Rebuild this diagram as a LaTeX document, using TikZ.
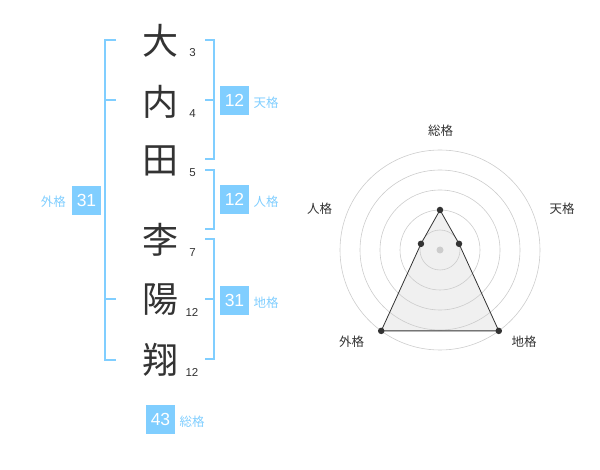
\documentclass[tikz,border=0pt]{standalone}
\usepackage{fontspec}
\newfontfamily\jp{Noto Sans CJK JP}
\newfontfamily\dig{Liberation Sans}
\definecolor{kblue}{RGB}{128,206,255}
\definecolor{kdark}{RGB}{51,51,51}
\definecolor{kgrid}{RGB}{204,204,204}
\definecolor{kfill}{RGB}{225,225,225}
\begin{document}
\begin{tikzpicture}[x=1pt,y=-1pt,
  kanji/.style={font=\jp\fontsize{36}{36}\selectfont, text=kdark, inner sep=0pt},
  stroke/.style={font=\dig\fontsize{11.5}{11.5}\selectfont, text=kdark, inner sep=0pt},
  numbox/.style={fill=kblue, text=white, minimum width=29pt, minimum height=29pt, inner sep=0pt, font=\dig\fontsize{17.5}{17.5}\selectfont},
  kaku/.style={font=\jp\fontsize{12.5}{12.5}\selectfont, text=kblue, inner sep=0pt},
  bracket/.style={draw=kblue, line width=2pt},
  radlab/.style={font=\jp\fontsize{12.5}{12.5}\selectfont, text=kdark, inner sep=0pt},
  grid/.style={draw=kgrid, line width=0.6pt},
  dot/.style={circle, fill=kdark, inner sep=0pt, minimum size=6.5pt}]
\useasboundingbox (0,0) rectangle (600,470);
% kanji
\node[kanji] (k1) at (160,41) {大};
\node[kanji] (k2) at (160,102) {内};
\node[kanji] (k3) at (160,161) {田};
\node[kanji] (k4) at (160,240) {李};
\node[kanji] (k5) at (160,300) {陽};
\node[kanji] (k6) at (160,360) {翔};
% stroke counts
\node[stroke] (s1) at (192.5,52.5) {3};
\node[stroke] (s2) at (192.5,113.5) {4};
\node[stroke] (s3) at (192.5,172.5) {5};
\node[stroke] (s4) at (192.5,252.5) {7};
\node[stroke] (s5) at (192,312.5) {12};
\node[stroke] (s6) at (192,372.5) {12};
% outer bracket
\coordinate (ga) at (116,40);
\coordinate (gb) at (105,40);
\coordinate (gc) at (105,360);
\coordinate (gd) at (116,360);
\draw[bracket] (ga) -- (gb) -- (gc) -- (gd);
\coordinate (gm1) at (105,100);
\coordinate (gm1e) at (116,100);
\coordinate (gm2) at (105,299.5);
\coordinate (gm2e) at (116,299.5);
\draw[bracket] (gm1) -- (gm1e);
\draw[bracket] (gm2) -- (gm2e);
\node[numbox] (gaibox) at (86.5,200.5) {31};
\node[kaku, anchor=east] (gailab) at (66,202) {外格};
% tenkaku bracket
\coordinate (ta) at (205,40);
\coordinate (tb) at (214,40);
\coordinate (tc) at (214,159.5);
\coordinate (td) at (205,159.5);
\draw[bracket] (ta) -- (tb) -- (tc) -- (td);
\coordinate (tm) at (205,100);
\coordinate (tme) at (214,100);
\draw[bracket] (tm) -- (tme);
\node[numbox] (tenbox) at (234.5,100.5) {12};
\node[kaku, anchor=west] (tenlab) at (253.5,102.5) {天格};
% jinkaku bracket
\coordinate (ja) at (205,170);
\coordinate (jb) at (214,170);
\coordinate (jc) at (214,229.5);
\coordinate (jd) at (205,229.5);
\draw[bracket] (ja) -- (jb) -- (jc) -- (jd);
\node[numbox] (jinbox) at (234.5,199.5) {12};
\node[kaku, anchor=west] (jinlab) at (253.5,201.5) {人格};
% chikaku bracket
\coordinate (ca) at (205,239.5);
\coordinate (cb) at (214,239.5);
\coordinate (cc) at (214,359.5);
\coordinate (cd) at (205,359.5);
\draw[bracket] (ca) -- (cb) -- (cc) -- (cd);
\coordinate (cm) at (205,299.5);
\coordinate (cme) at (214,299.5);
\draw[bracket] (cm) -- (cme);
\node[numbox] (chibox) at (234.5,300.5) {31};
\node[kaku, anchor=west] (chilab) at (253.5,302.5) {地格};
% soukaku
\node[numbox] (soubox) at (160.5,419.5) {43};
\node[kaku, anchor=west] (soulab) at (179.5,421.5) {総格};
% radar
\coordinate (O) at (440,250);
\coordinate (pS) at (440,210);
\coordinate (pT) at (459.02,243.82);
\coordinate (pC) at (498.78,330.90);
\coordinate (pG) at (381.22,330.90);
\coordinate (pJ) at (420.98,243.82);
\fill[kfill, fill opacity=0.5] (pS) -- (pT) -- (pC) -- (pG) -- (pJ) -- cycle;
\foreach \r in {20,40,60,80,100} \draw[grid] (O) circle[radius=\r pt];
\draw[draw=kdark, line width=0.8pt, line join=round] (pS) -- (pT) -- (pC) -- (pG) -- (pJ) -- cycle;
\fill[kgrid] (O) circle[radius=3.5pt];
\foreach \p in {pS,pT,pC,pG,pJ} \node[dot] at (\p) {};
\node[radlab] (lS) at (440.5,130.5) {総格};
\node[radlab] (lT) at (562,208.5) {天格};
\node[radlab] (lJ) at (319.5,208.5) {人格};
\node[radlab] (lG) at (351.5,341.5) {外格};
\node[radlab] (lC) at (524,341.5) {地格};
\end{tikzpicture}
\end{document}
